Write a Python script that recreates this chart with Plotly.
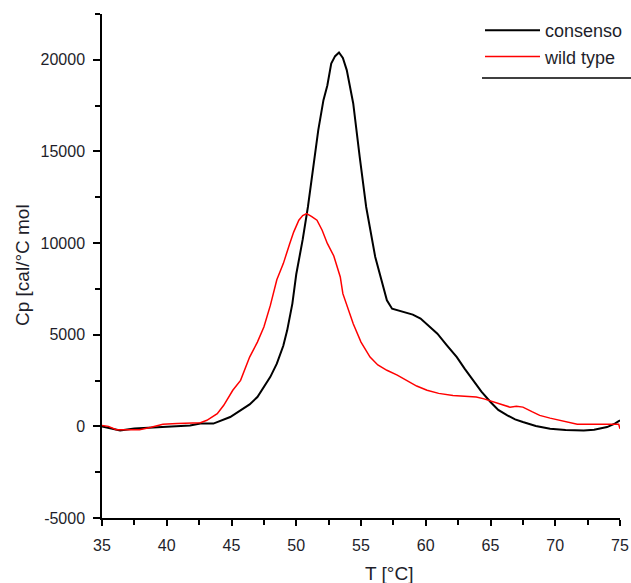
import plotly.graph_objects as go

# consenso (black)
cons_T = [35.0, 35.6, 36.4, 37.5, 39.2, 40.5, 41.8, 42.6, 43.6, 44.9, 45.5, 46.4, 47.0, 47.6,
          48.0, 48.5, 49.0, 49.3, 49.7, 50.0, 50.5, 50.9, 51.3, 51.7, 52.1, 52.4, 52.7, 53.0,
          53.3, 53.6, 53.9, 54.4, 54.9, 55.4, 56.1, 56.5, 57.0, 57.4, 58.0, 58.5, 59.0, 59.6,
          60.2, 60.9, 61.6, 62.4, 63.0, 63.7, 64.3, 65.0, 65.6, 66.3, 66.9, 67.5, 68.5, 69.6,
          70.8, 72.2, 73.0, 74.0, 74.6, 75.0]
cons_Cp = [0, -100, -220, -120, -40, 0, 50, 150, 150, 510, 800, 1200, 1600, 2240,
           2700, 3420, 4400, 5240, 6700, 8300, 10200, 11970, 13980, 16160, 17800, 18600, 19800, 20200,
           20400, 20100, 19440, 17620, 14700, 11970, 9240, 8150, 6880, 6420, 6300, 6240, 6100, 5880,
           5500, 5060, 4450, 3780, 3150, 2510, 1900, 1330, 900, 600, 380, 235, 20, -130,
           -200, -220, -180, -40, 150, 330]

# wild type (red)
wt_T = [35.0, 35.5, 36.1, 37.0, 37.9, 38.8, 39.7, 40.8, 41.8, 42.6, 43.1, 43.9, 44.4, 45.1,
        45.7, 46.4, 47.0, 47.5, 48.0, 48.5, 49.0, 49.3, 49.5, 49.8, 50.2, 50.5, 50.8, 51.2,
        51.6, 52.0, 52.4, 52.9, 53.4, 53.6, 54.0, 54.4, 55.0, 55.7, 56.3, 57.0, 57.8, 58.5,
        59.3, 60.1, 61.0, 62.1, 63.0, 63.9, 64.5, 65.0, 65.7, 66.5, 67.0, 67.5, 68.2, 68.8,
        69.6, 70.4, 71.0, 71.7, 73.0, 74.0, 74.9, 75.0]
wt_Cp = [50, 0, -180, -200, -180, -50, 110, 150, 180, 200, 330, 690, 1150, 1970,
         2510, 3780, 4600, 5420, 6600, 8000, 8880, 9600, 9980, 10600, 11250, 11500, 11610, 11450,
         11250, 10700, 9980, 9300, 8150, 7240, 6400, 5600, 4600, 3780, 3350, 3060, 2800, 2510,
         2200, 1970, 1800, 1690, 1650, 1600, 1500, 1380, 1200, 1050, 1100, 1050, 800, 600,
         450, 330, 200, 110, 110, 110, 110, -130]

x_ticks = [35, 40, 45, 50, 55, 60, 65, 70, 75]
y_ticks = [-5000, 0, 5000, 10000, 15000, 20000]

FONT = "Liberation Sans Narrow, Arial Narrow, Liberation Sans, Arial, sans-serif"
TXT = "#1e1e2a"

W, H = 631, 583
L, R, T, B = 102, 11, 14, 65
PW, PH = W - L - R, H - T - B

fig = go.Figure()
fig.add_trace(go.Scatter(x=cons_T, y=cons_Cp, mode="lines", name="consenso",
                         line=dict(color="#000000", width=2)))
fig.add_trace(go.Scatter(x=wt_T, y=wt_Cp, mode="lines", name="wild type",
                         line=dict(color="#ff0000", width=1.5)))

fig.update_layout(
    width=W, height=H,
    margin=dict(l=L, r=R, t=T, b=B, autoexpand=False),
    paper_bgcolor="white", plot_bgcolor="white",
    font=dict(family=FONT, color=TXT, size=16),
    showlegend=True,
    legend=dict(xref="container", yref="container", x=480 / W, y=1 - 12 / H,
                xanchor="left", yanchor="top",
                bgcolor="rgba(0,0,0,0)", font=dict(size=18, family=FONT, color=TXT),
                itemwidth=55, tracegroupgap=0),
    xaxis=dict(range=[35, 75], tickvals=x_ticks, ticktext=[str(v) for v in x_ticks],
               showgrid=False, zeroline=False, showline=True, linecolor="black", linewidth=1.5,
               ticks="outside", ticklen=6, tickcolor="black", tickwidth=1.5,
               ticklabelstandoff=6,
               minor=dict(dtick=2.5, tick0=35, ticks="outside", ticklen=5, tickcolor="black", tickwidth=1.5),
               tickfont=dict(size=16, family=FONT, color=TXT)),
    yaxis=dict(range=[-5000, 22500], tickvals=y_ticks, ticktext=[str(v) for v in y_ticks],
               showgrid=False, zeroline=False, showline=True, linecolor="black", linewidth=1.5,
               ticks="outside", ticklen=7, tickcolor="black", tickwidth=1.5,
               ticklabelstandoff=5,
               minor=dict(dtick=2500, tick0=0, ticks="outside", ticklen=5, tickcolor="black", tickwidth=1.5),
               tickfont=dict(size=16, family=FONT, color=TXT)),
)

# axis titles
fig.add_annotation(text="T [°C]", xref="paper", yref="paper", x=(389 - L) / PW, y=-(573 - (H - B)) / PH,
                   showarrow=False, xanchor="center", yanchor="middle",
                   font=dict(size=19, family=FONT, color=TXT))
fig.add_annotation(text="Cp [cal/°C mol", xref="paper", yref="paper", x=-(L - 22) / PW, y=((H - B) - 265) / PH,
                   showarrow=False, xanchor="center", yanchor="middle", textangle=-90,
                   font=dict(size=19, family=FONT, color=TXT))

# legend underline
fig.add_shape(type="line", xref="paper", yref="paper",
              x0=(482 - L) / PW, x1=(631 - L) / PW, y0=((H - B) - 78) / PH, y1=((H - B) - 78) / PH,
              line=dict(color="black", width=1.5))

fig.write_html("out.html")
